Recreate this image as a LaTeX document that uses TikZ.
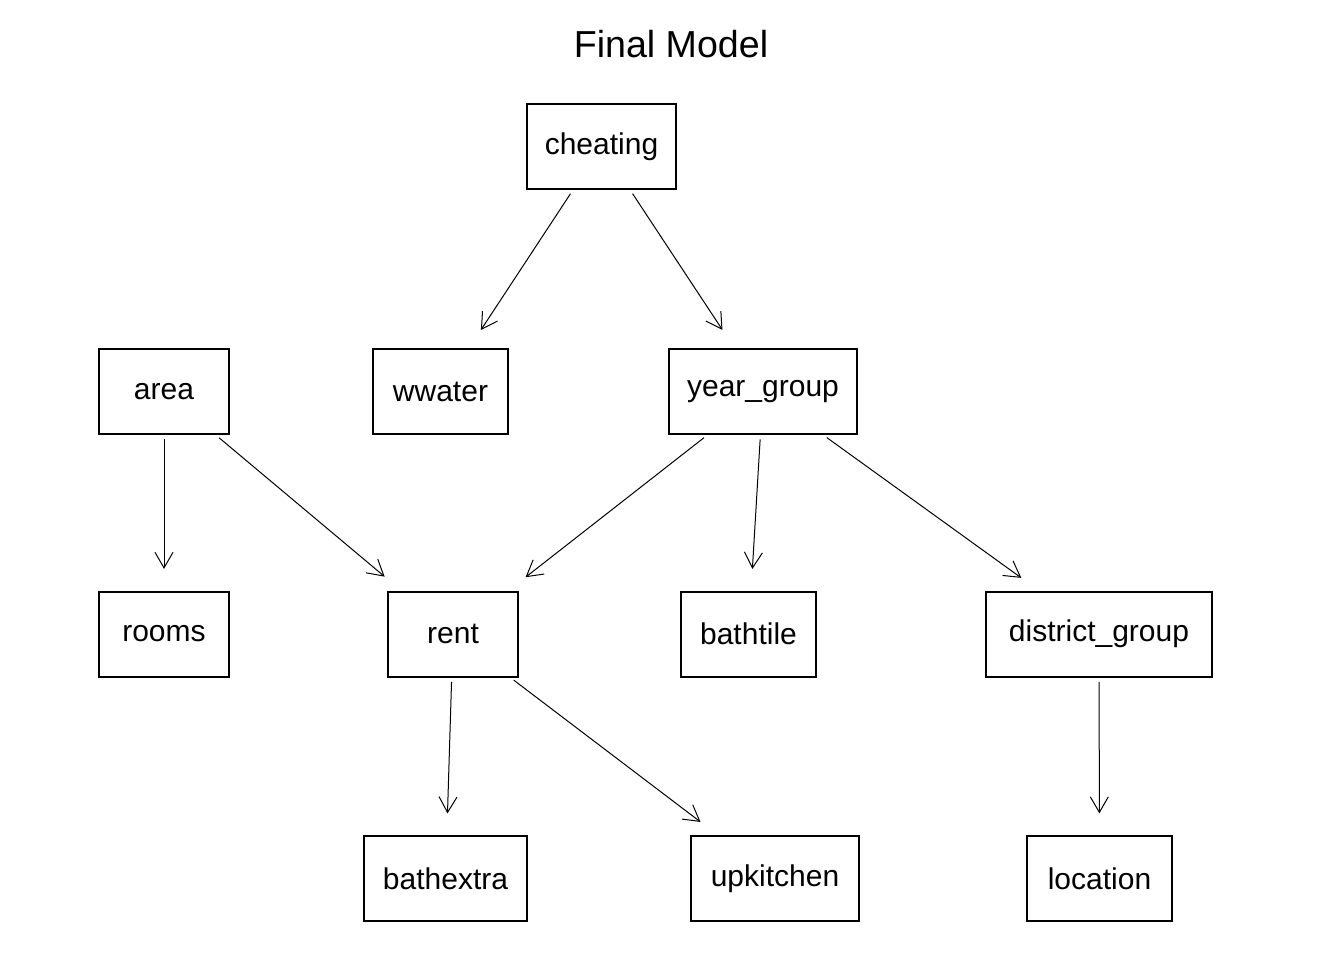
\documentclass[tikz,border=0pt]{standalone}
\usepackage{fontspec}
\setmainfont{Liberation Sans}
\usetikzlibrary{arrows.meta}

\begin{document}
\begin{tikzpicture}[x=0.5pt,y=-0.5pt,
   var/.style={draw,line width=1pt,inner sep=0pt,minimum height=42.5pt,font=\fontsize{15}{17}\selectfont},
   dep/.style={line width=0.5pt,-{Straight Barb[length=7.8pt,width=9pt]},shorten >=10.8pt,shorten <=2.2pt}]
   \useasboundingbox (0,0) rectangle (1344,960);
   \node[font=\fontsize{18.8}{22}\selectfont] (title) at (671,44) {Final Model};

   \node[var,minimum width=74.5pt] (cheating) at (601.5,146.5) {cheating};
   \node[var,minimum width=65pt] (area) at (164,391.5) {area};
   \node[var,minimum width=67.5pt] (wwater) at (440.5,391.5) {wwater};
   \node[var,minimum width=94pt] (yeargroup) at (763,391.5) {year\_group};
   \node[var,minimum width=65pt] (rooms) at (164,634) {rooms};
   \node[var,minimum width=65pt] (rent) at (453,634) {rent};
   \node[var,minimum width=67.5pt] (bathtile) at (748.5,634) {bathtile};
   \node[var,minimum width=113pt] (districtgroup) at (1099,634) {district\_group};
   \node[var,minimum width=81.5pt] (bathextra) at (445.5,878.5) {bathextra};
   \node[var,minimum width=84pt] (upkitchen) at (775,878.5) {upkitchen};
   \node[var,minimum width=72.5pt] (location) at (1099.5,878.5) {location};

     \path[dep] (cheating) edge (wwater);
     \path[dep] (cheating) edge (yeargroup);
     \path[dep] (area) edge (rooms);
     \path[dep] (area) edge (rent);
     \path[dep] (yeargroup) edge (rent);
     \path[dep] (yeargroup) edge (bathtile);
     \path[dep] (yeargroup) edge (districtgroup);
     \path[dep] (rent) edge (bathextra);
     \path[dep] (rent) edge (upkitchen);
     \path[dep] (districtgroup) edge (location);

\end{tikzpicture}
\end{document}
